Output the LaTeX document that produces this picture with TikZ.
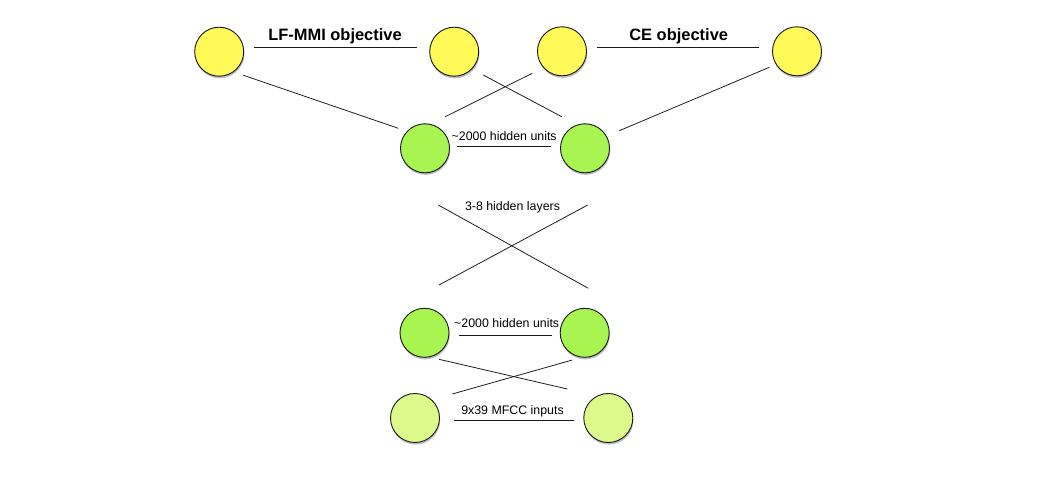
\documentclass[tikz,border=0pt]{standalone}
\usepackage{fontspec}
\setmainfont{Liberation Sans}
\usepackage{tikz}
\usetikzlibrary{shadows}
\definecolor{outyellow}{HTML}{FFFA57}
\definecolor{hidgreen}{HTML}{A8F552}
\definecolor{inlime}{HTML}{DDF98C}
\begin{document}
\begin{tikzpicture}[x=0.025cm,y=-0.025cm,
    unit/.style={circle,draw=black!90,line width=0.65pt,inner sep=0pt,minimum size=1.225cm,
      drop shadow={shadow xshift=0.5pt,shadow yshift=-1.5pt,opacity=0.5}},
    link/.style={line width=0.55pt,black!90},
    title/.style={font=\fontsize{11.7}{14}\selectfont\bfseries,anchor=base,inner sep=0pt},
    note/.style={font=\fontsize{8.8}{10}\selectfont,anchor=base,inner sep=0pt}]
        \useasboundingbox (0,0) rectangle (1052,480);
        % Output units
        \node[unit,fill=outyellow] (y1) at (219.2,51.7) {};
        \node[unit,fill=outyellow] (y2) at (454.2,51.7) {};
        \node[unit,fill=outyellow] (y3) at (562,51.3) {};
        \node[unit,fill=outyellow] (y4) at (797,51.3) {};
        % Hidden units
        \node[unit,fill=hidgreen] (g1) at (425,148.3) {};
        \node[unit,fill=hidgreen] (g2) at (585,148.3) {};
        \node[unit,fill=hidgreen] (g3) at (424.5,332.8) {};
        \node[unit,fill=hidgreen] (g4) at (584.7,332.8) {};
        % Input units
        \node[unit,fill=inlime] (i1) at (415,418) {};
        \node[unit,fill=inlime] (i2) at (608.3,418) {};
        % Labels
        \node[title] (mmi) at (335,40.7) {LF-MMI objective};
        \node[title] (ce) at (678.7,40.7) {CE objective};
        \node[note] (hidtop) at (504.2,140) {\textasciitilde 2000 hidden units};
        \node[note] (layers) at (512.5,210.7) {3-8 hidden layers};
        \node[note] (hidbot) at (506.7,327.3) {\textasciitilde 2000 hidden units};
        \node[note] (inputs) at (512.5,414) {9x39 MFCC inputs};
        % Top connections
        \draw[link] ([shift={(35,-4)}]y1.center) -- ([shift={(-37.5,-4)}]y2.center);
        \draw[link] ([shift={(35,-3.5)}]y3.center) -- ([shift={(-38,-3.5)}]y4.center);
        \draw[link] ([shift={(24,23.5)}]y1.center) -- ([shift={(-26.7,-20)}]g1.center);
        \draw[link] ([shift={(20,-31.5)}]g1.center) -- ([shift={(-29.7,22)}]y3.center);
        \draw[link] ([shift={(29,23.3)}]y2.center) -- ([shift={(-23.3,-31.6)}]g2.center);
        \draw[link] ([shift={(-27.7,16)}]y4.center) -- ([shift={(34.3,-17.6)}]g2.center);
        \draw[link] ([shift={(32.3,-2.3)}]g1.center) -- ([shift={(-34.3,-2.3)}]g2.center);
        % Hidden layers
        \draw[link] ([shift={(13.3,56.7)}]g1.center) -- ([shift={(3.6,-44.5)}]g4.center);
        \draw[link] ([shift={(14.5,-47.8)}]g3.center) -- ([shift={(2.7,56.7)}]g2.center);
        \draw[link] ([shift={(34.5,2.2)}]g3.center) -- ([shift={(-32.4,2.2)}]g4.center);
        % Bottom connections
        \draw[link] ([shift={(14.5,26.5)}]g3.center) -- ([shift={(-41,-29)}]i2.center);
        \draw[link] ([shift={(37.3,-24)}]i1.center) -- ([shift={(-12.4,27.2)}]g4.center);
        \draw[link] ([shift={(39,2.7)}]i1.center) -- ([shift={(-34.3,2.7)}]i2.center);
\end{tikzpicture}
\end{document}
